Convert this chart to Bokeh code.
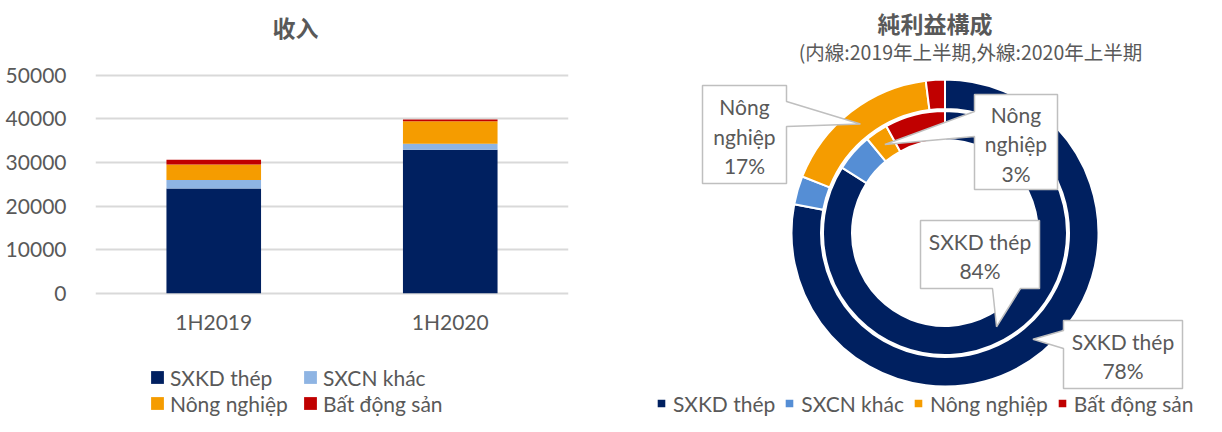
import math
from bokeh.plotting import figure
from bokeh.models import (ColumnDataSource, FactorRange, Range1d, Legend, LegendItem,
                          Label, FixedTicker)
from bokeh.layouts import row
from bokeh.embed import file_html
from bokeh.resources import INLINE
from bokeh.core.properties import value

# ---------------- data ----------------
periods = ["1H2019", "1H2020"]
segments = ["SXKD thép", "SXCN khác", "Nông nghiệp", "Bất động sản"]
rev_sxkd = [24000, 32900]
rev_sxcn = [1950, 1350]
rev_nong = [3550, 5200]
rev_bds = [1100, 400]
y_ticks = [0, 10000, 20000, 30000, 40000, 50000]

profit_2019 = [84, 5, 3, 8]    # inner ring (1H2019), %
profit_2020 = [78, 3, 17, 2]   # outer ring (1H2020), %

bar_title = "收入"
pie_title = "純利益構成"
pie_subtitle = "(内線:2019年上半期,外線:2020年上半期"

# ---------------- style ----------------
bar_colors = ["#002060", "#8EB4E3", "#F59C00", "#C00000"]
pie_colors = ["#002060", "#558ED5", "#F59C00", "#C00000"]
TEXT = "#595959"
LATIN = "Lato"
FS = "21px"
H = 416

# ---------------- bar chart ----------------
# frame spans the whole figure height; value axis mapped so that
# 0 sits at y 292.7 and 50000 at y 74.7 (pixels from the top)
W1 = 620
PX_PER_UNIT = 218.0 / 50000
y_lo = -(H - 292.7) / PX_PER_UNIT
y_hi = 50000 + 74.7 / PX_PER_UNIT
p1 = figure(width=W1, height=H, x_range=FactorRange(factors=periods),
            y_range=Range1d(y_lo, y_hi), output_backend="svg", toolbar_location=None,
            min_border_left=95, min_border_right=52, min_border_top=0,
            min_border_bottom=0)
p1.outline_line_color = None

src = ColumnDataSource(dict(period=periods, sxkd=rev_sxkd, sxcn=rev_sxcn,
                            nong=rev_nong, bds=rev_bds))
keys = ["sxkd", "sxcn", "nong", "bds"]
bars = p1.vbar_stack(keys, x="period", width=0.4, fill_color=bar_colors,
                     line_color=None, source=src)

p1.yaxis.ticker = FixedTicker(ticks=y_ticks)
p1.ygrid.ticker = FixedTicker(ticks=y_ticks)
p1.xgrid.grid_line_color = None
p1.ygrid.grid_line_color = "#D9D9D9"
p1.ygrid.grid_line_width = 2
p1.ygrid.level = "underlay"
for ax in (p1.xaxis, p1.yaxis):
    ax.axis_line_color = None
    ax.major_tick_line_color = None
    ax.minor_tick_line_color = None
    ax.major_label_text_font = LATIN
    ax.major_label_text_font_size = FS
    ax.major_label_text_color = TEXT
p1.yaxis.major_label_standoff = 23
p1.xaxis.fixed_location = 0
p1.xaxis.major_label_standoff = 10

p1.add_layout(Label(x=200, y=H - 26, x_units="screen", y_units="screen", text=bar_title,
                    text_font="Noto Sans CJK SC", text_font_style="bold",
                    text_font_size="23px", text_color=TEXT, text_align="center",
                    text_baseline="middle"))

leg_style = dict(orientation="horizontal", glyph_width=16, glyph_height=16,
                 label_standoff=5, label_width=122, label_height=26, spacing=10,
                 padding=0, margin=0, border_line_color=None, background_fill_alpha=0,
                 label_text_font=LATIN, label_text_font_size=FS, label_text_color=TEXT)
leg1a = Legend(items=[LegendItem(label=segments[i], renderers=[bars[i]]) for i in (0, 1)],
               location=(54, 26), **leg_style)
leg1b = Legend(items=[LegendItem(label=segments[i], renderers=[bars[i]]) for i in (2, 3)],
               location=(54, 0), **leg_style)
p1.add_layout(leg1a)
p1.add_layout(leg1b)

# ---------------- donut chart ----------------
W2 = 586
X0 = W1  # picture x of this figure's left edge
p2 = figure(width=W2, height=H, x_range=Range1d(X0, X0 + W2), y_range=Range1d(432 - H, 432),
            x_axis_type=None, y_axis_type=None, output_backend="svg",
            toolbar_location=None, min_border=0)
p2.outline_line_color = None
p2.grid.visible = False

def Y(y):  # picture y (down) -> data y (up)
    return 432 - y

CX, CY = 944.5, Y(232.5)
rings = {
    "inner": dict(vals=profit_2019, r0=93, r1=122, rmid=107),
    "outer": dict(vals=profit_2020, r0=124, r1=153.5, rmid=138),
}
ring_src = {}
ring_rend = {}
for name, rg in rings.items():
    vals = rg["vals"]
    tot = float(sum(vals))
    cum = [0.0]
    for v in vals:
        cum.append(cum[-1] + v)
    start = [math.pi / 2 - 2 * math.pi * cum[i] / tot for i in range(len(vals))]
    end = [math.pi / 2 - 2 * math.pi * cum[i + 1] / tot for i in range(len(vals))]
    s = ColumnDataSource(dict(start=start, end=end, color=pie_colors, seg=segments, val=vals))
    ring_src[name] = s
    ring_rend[name] = p2.annular_wedge(x=CX, y=CY, inner_radius=rg["r0"], outer_radius=rg["r1"],
                                       start_angle="start", end_angle="end", direction="clock",
                                       fill_color="color", line_color="white", line_width=2,
                                       source=s)

# callout boxes: (ring, segment index, box l,t,r,b in picture px, side, attach pts, wrap)
callouts = [
    ("outer", 2, (702, 85, 786, 183), "right", (101, 126), True),
    ("inner", 2, (974, 94, 1057, 189), "left", (111, 136), True),
    ("inner", 0, (920, 220, 1039, 288), "bottom", (992, 1020), False),
    ("outer", 0, (1063, 320, 1182, 388), "left", (330, 348), False),
]
xs, ys, tx, ty, tt = [], [], [], [], []
for ring, idx, (l, t, r, b), side, (a0, a1), wrap in callouts:
    d = ring_src[ring].data
    ang = (d["start"][idx] + d["end"][idx]) / 2
    rm = rings[ring]["rmid"]
    tip = (CX + rm * math.cos(ang), CY + rm * math.sin(ang))
    if side == "right":
        pts = [(l, Y(t)), (r, Y(t)), (r, Y(a0)), tip, (r, Y(a1)), (r, Y(b)), (l, Y(b))]
    elif side == "left":
        pts = [(l, Y(t)), (r, Y(t)), (r, Y(b)), (l, Y(b)), (l, Y(a1)), tip, (l, Y(a0))]
    else:
        pts = [(l, Y(t)), (r, Y(t)), (r, Y(b)), (a1, Y(b)), tip, (a0, Y(b)), (l, Y(b))]
    xs.append([p[0] for p in pts])
    ys.append([p[1] for p in pts])
    seg = d["seg"][idx]
    name = seg.replace(" ", "\n") if wrap else seg
    tt.append(f"{name}\n{d['val'][idx]}%")
    tx.append((l + r) / 2)
    ty.append(Y((t + b) / 2 + 1.5))

p2.patches(xs, ys, fill_color="white", line_color="#BFBFBF", line_width=1.5)
p2.text(tx, ty, text=tt, text_align="center", text_baseline="middle",
        text_font=value(LATIN), text_font_size=FS, text_color=TEXT, text_line_height=1.18)

p2.text([934.5], [Y(22)], text=[pie_title], text_align="center", text_baseline="middle",
        text_font=value("Noto Sans CJK JP"), text_font_style="bold",
        text_font_size="23px", text_color=TEXT)
p2.text([970], [Y(51)], text=[pie_subtitle], text_align="center", text_baseline="middle",
        text_font=value("Noto Sans CJK JP"), text_font_size="19.5px", text_color=TEXT)

leg2 = Legend(items=[LegendItem(label=segments[i], renderers=[ring_rend["outer"]], index=i)
                     for i in range(4)],
              location=(35, 0), orientation="horizontal",
              glyph_width=12, glyph_height=12, label_standoff=6, spacing=8,
              label_height=26, padding=0, margin=0, border_line_color=None,
              background_fill_alpha=0, label_text_font=LATIN,
              label_text_font_size=FS, label_text_color=TEXT)
p2.add_layout(leg2)

layout = row(p1, p2)
open("out.html", "w").write(file_html(layout, INLINE))
